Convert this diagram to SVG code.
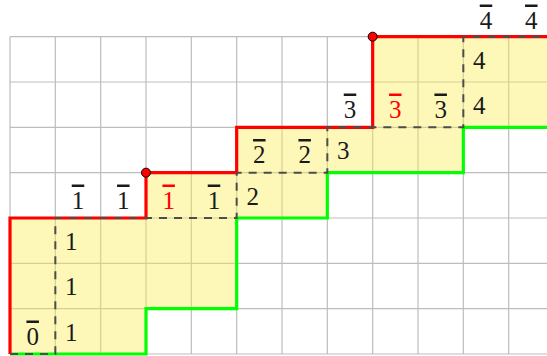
<svg xmlns="http://www.w3.org/2000/svg" width="547" height="356" viewBox="0 0 547 356">
<style>
.grid line{stroke:#bdbdbd;stroke-width:1.2}
.lbl{font-family:"Liberation Serif","Times New Roman",serif;font-size:25px;text-anchor:middle;fill:#1a1a1a}
.bar{text-decoration:overline;text-decoration-thickness:1.3px}
.red{fill:#ff0000}
</style>
<rect width="547" height="356" fill="#ffffff"/>
<g id="grid" class="grid">
<line x1="10" y1="36.67" x2="10" y2="354"/>
<line x1="55.33" y1="36.67" x2="55.33" y2="354"/>
<line x1="100.67" y1="36.67" x2="100.67" y2="354"/>
<line x1="146" y1="36.67" x2="146" y2="354"/>
<line x1="191.33" y1="36.67" x2="191.33" y2="354"/>
<line x1="236.67" y1="36.67" x2="236.67" y2="354"/>
<line x1="282" y1="36.67" x2="282" y2="354"/>
<line x1="327.33" y1="36.67" x2="327.33" y2="354"/>
<line x1="372.67" y1="36.67" x2="372.67" y2="354"/>
<line x1="418" y1="36.67" x2="418" y2="354"/>
<line x1="463.33" y1="36.67" x2="463.33" y2="354"/>
<line x1="508.67" y1="36.67" x2="508.67" y2="354"/>
<line x1="10" y1="36.67" x2="547" y2="36.67"/>
<line x1="10" y1="82" x2="547" y2="82"/>
<line x1="10" y1="127.33" x2="547" y2="127.33"/>
<line x1="10" y1="172.67" x2="547" y2="172.67"/>
<line x1="10" y1="218" x2="547" y2="218"/>
<line x1="10" y1="263.33" x2="547" y2="263.33"/>
<line x1="10" y1="308.67" x2="547" y2="308.67"/>
<line x1="10" y1="354" x2="547" y2="354"/>
</g>
<g id="region">
<path d="M10,354 V218 H146 V172.67 H236.67 V127.33 H372.67 V36.67 H548 V127.33 H463.33 V172.67 H327.33 V218 H236.67 V308.67 H146 V354 Z" fill="#f9ec4d" fill-opacity="0.4"/>
</g>
<g id="connectors" fill="none">
<path id="green" d="M10,354 H146 V308.67 H236.67 V218 H327.33 V172.67 H463.33 V127.33 H548" stroke="#00ff00" stroke-width="3.2"/>
<path id="red" d="M10,354 V218 H146 V172.67 H236.67 V127.33 H372.67 V36.67 H548" stroke="#ff0000" stroke-width="3.2"/>
<path id="dashed" d="M10,354 H55.33 V218 H236.67 V172.67 H327.33 V127.33 H463.33 V36.67 H548" stroke="#4d4d4d" stroke-width="2" stroke-dasharray="8 7"/>
</g>
<g id="dots" fill="#ff0000" stroke="#000" stroke-width="1">
<circle cx="146" cy="172.67" r="4.5"/>
<circle cx="372.67" cy="36.67" r="4.5"/>
</g>
<g id="labels" class="lbl">
<text x="32.7" y="344.5" class="bar">0</text>
<text x="78" y="208.5" class="bar">1</text>
<text x="123.3" y="208.5" class="bar">1</text>
<text x="168.7" y="208.5" class="bar red">1</text>
<text x="214" y="208.5" class="bar">1</text>
<text x="259.3" y="163" class="bar">2</text>
<text x="304.7" y="163" class="bar">2</text>
<text x="350" y="117.5" class="bar">3</text>
<text x="395.3" y="117.5" class="bar red">3</text>
<text x="440.7" y="117.5" class="bar">3</text>
<text x="486" y="28.5" class="bar">4</text>
<text x="531.3" y="28.5" class="bar">4</text>
<text x="71.3" y="250">1</text>
<text x="71.3" y="295.3">1</text>
<text x="71.3" y="340.6">1</text>
<text x="252.7" y="204.6">2</text>
<text x="343.3" y="159.3">3</text>
<text x="479.3" y="68.6">4</text>
<text x="479.3" y="114">4</text>
</g>
</svg>
